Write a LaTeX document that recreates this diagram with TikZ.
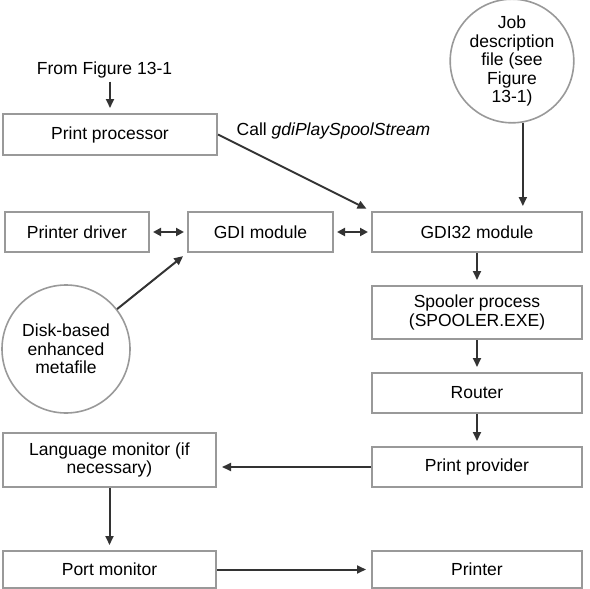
\documentclass[tikz,border=0pt]{standalone}
\usepackage{fontspec}
\setmainfont{Liberation Sans}
\usetikzlibrary{arrows.meta,calc}
\definecolor{boxgray}{HTML}{999999}
\definecolor{arrgray}{HTML}{333333}
\begin{document}
\begin{tikzpicture}[x=1pt,y=-1pt,
  every node/.style={font=\fontsize{17.5}{18.5}\selectfont, text=black},
  box/.style={draw=boxgray, line width=2pt, inner sep=0pt, align=center},
  circ/.style={draw=boxgray, line width=1.6pt, circle, inner sep=0pt, align=center},
  arr/.style={draw=arrgray, line width=2pt, -{Triangle[length=9pt,width=8pt]}, shorten >=5pt},
  darr/.style={draw=arrgray, line width=2pt, {Triangle[length=8pt,width=8pt]}-{Triangle[length=8pt,width=8pt]}, shorten >=3pt, shorten <=3pt}
]
\useasboundingbox (0,0) rectangle (590,589);

\node[box, minimum width=214pt, minimum height=41pt] (pp) at (110,134.5) {Print processor};
\node[box, minimum width=144pt, minimum height=40pt] (drv) at (77,232) {Printer driver};
\node[box, minimum width=145pt, minimum height=40pt] (gdi) at (260.5,232) {GDI module};
\node[box, minimum width=210pt, minimum height=40pt] (gdi32) at (477,232) {GDI32 module};
\node[box, minimum width=210pt, minimum height=53pt] (spool) at (477,312.5) {Spooler process\\(SPOOLER.EXE)};
\node[box, minimum width=210pt, minimum height=40pt] (router) at (477,393) {Router};
\node[box, minimum width=210pt, minimum height=40pt] (prov) at (477,467) {Print provider};
\node[box, minimum width=213pt, minimum height=54pt] (lm) at (109.5,460) {Language monitor (if\\necessary)};
\node[box, minimum width=213pt, minimum height=37pt] (port) at (109.5,569.5) {Port monitor};
\node[box, minimum width=210pt, minimum height=37pt] (printer) at (477,569.5) {Printer};
\node[circ, minimum size=114pt] (job) at (512,61) {Job\\description\\file (see\\Figure\\13-1)};
\node[circ, minimum size=128pt] (disk) at (66,349) {Disk-based\\enhanced\\metafile};
\node (from) at (104.5,70) {From Figure 13-1};
\node (call) at (333.5,131) {Call \textit{gdiPlaySpoolStream}};

\draw[arr] (from.south -| pp.north) -- (pp.north);
\draw[arr] (pp.east) -- (gdi32.north west);
\draw[darr] (drv.east) -- (gdi.west);
\draw[darr] (gdi.east) -- (gdi32.west);
\draw[arr] (disk.38) -- (gdi.south west);
\draw[arr] (job.-80) -- (job.-80 |- gdi32.north);
\draw[arr] (gdi32) -- (spool);
\draw[arr] (spool) -- (router);
\draw[arr] (router) -- (prov);
\draw[arr] (prov.west) -- (prov.west -| lm.east);
\draw[arr] (lm) -- (port);
\draw[arr] (port) -- (printer);
\end{tikzpicture}
\end{document}
